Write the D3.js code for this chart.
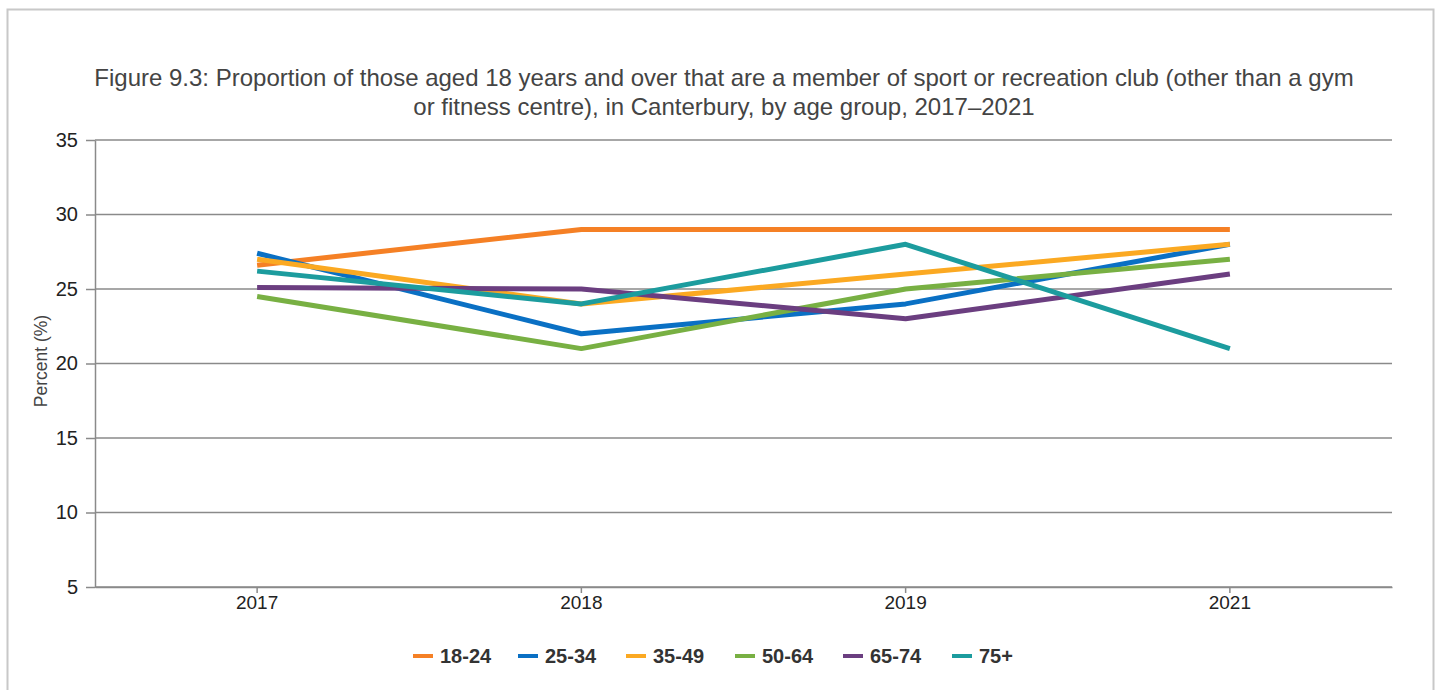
<!DOCTYPE html>
<html>
<head>
<meta charset="utf-8">
<script src="https://cdn.jsdelivr.net/npm/d3@7"></script>
<style>
  body { margin: 0; background: #fff; font-family: "Liberation Sans", Arial, sans-serif; }
</style>
</head>
<body>
<svg id="chart"></svg>
<script>
// chart data
var years = ["2017", "2018", "2019", "2021"];
var groups = ["18-24", "25-34", "35-49", "50-64", "65-74", "75+"];
var v1824 = [26.6, 29, 29, 29];
var v2534 = [27.4, 22, 24, 28];
var v3549 = [27.0, 24, 26, 28];
var v5064 = [24.5, 21, 25, 27];
var v6574 = [25.1, 25, 23, 26];
var v75 = [26.2, 24, 28, 21];
var yTicks = [5, 10, 15, 20, 25, 30, 35];
var colors = ["#f58025", "#0a70c4", "#fba922", "#78b043", "#6b3e80", "#1c9c9e"];

var series = [v1824, v2534, v3549, v5064, v6574, v75];

var width = 1442, height = 690;
var plotLeft = 95, plotRight = 1392, plotTop = 140, plotBottom = 587;

var svg = d3.select("#chart")
    .attr("width", width)
    .attr("height", height);

// outer frame
svg.append("rect")
    .attr("x", 7.5).attr("y", 9.5)
    .attr("width", 1426).attr("height", 700)
    .attr("fill", "none")
    .attr("stroke", "#c8c8c8")
    .attr("stroke-width", 2);

var xScale = d3.scaleBand()
    .domain(years)
    .range([plotLeft, plotRight]);

var yScale = d3.scaleLinear()
    .domain([5, 35])
    .range([plotBottom, plotTop]);

// horizontal grid
svg.append("g")
  .selectAll("line")
  .data(yTicks)
  .enter()
  .append("line")
    .attr("x1", plotLeft).attr("x2", plotRight)
    .attr("y1", d => yScale(d)).attr("y2", d => yScale(d))
    .attr("stroke", "#8a8a8a")
    .attr("stroke-width", 1.5);

// y axis
var yAxis = d3.axisLeft(yScale)
    .tickValues(yTicks)
    .tickSize(9)
    .tickSizeOuter(0)
    .tickPadding(8);

var gy = svg.append("g")
    .attr("transform", "translate(" + plotLeft + ",0)")
    .call(yAxis);
gy.select(".domain").attr("stroke", "#8a8a8a").attr("stroke-width", 1.5);
gy.selectAll(".tick line").attr("stroke", "#8a8a8a").attr("stroke-width", 1.5);
gy.selectAll(".tick text")
    .attr("fill", "#222")
    .style("font-family", "'Liberation Sans', Arial, sans-serif")
    .style("font-size", "20px");

// x axis
var xAxis = d3.axisBottom(xScale)
    .tickSize(6)
    .tickSizeOuter(0)
    .tickPadding(3);

var gx = svg.append("g")
    .attr("transform", "translate(0," + plotBottom + ")")
    .call(xAxis);
gx.select(".domain").attr("stroke", "#8a8a8a").attr("stroke-width", 1.5);
gx.selectAll(".tick line").attr("stroke", "#8a8a8a").attr("stroke-width", 1.5);
gx.selectAll(".tick text")
    .attr("fill", "#222")
    .style("font-family", "'Liberation Sans', Arial, sans-serif")
    .style("font-size", "19px");

// lines
var line = d3.line()
    .x((d, i) => xScale(years[i]) + xScale.bandwidth() / 2)
    .y(d => yScale(d));

svg.append("g")
  .selectAll("path")
  .data(series)
  .enter()
  .append("path")
    .attr("d", line)
    .attr("fill", "none")
    .attr("stroke", (d, i) => colors[i])
    .attr("stroke-width", 5)
    .attr("stroke-linejoin", "round");

// title
svg.append("text")
    .attr("x", 724)
    .attr("y", 86)
    .attr("text-anchor", "middle")
    .attr("fill", "#444")
    .style("font-size", "24px")
    .text("Figure 9.3: Proportion of those aged 18 years and over that are a member of sport or recreation club (other than a gym");
svg.append("text")
    .attr("x", 724)
    .attr("y", 115)
    .attr("text-anchor", "middle")
    .attr("fill", "#444")
    .style("font-size", "24px")
    .text("or fitness centre), in Canterbury, by age group, 2017\u20132021");

// y axis title
svg.append("text")
    .attr("transform", "rotate(-90)")
    .attr("x", -361)
    .attr("y", 47)
    .attr("text-anchor", "middle")
    .attr("fill", "#444")
    .style("font-size", "17.5px")
    .text("Percent (%)");

// legend
var legendX = [413, 518, 626, 735, 843, 952];
var legend = svg.append("g")
  .selectAll("g")
  .data(groups)
  .enter()
  .append("g")
    .attr("transform", (d, i) => "translate(" + legendX[i] + ",656)");

legend.append("line")
    .attr("x1", 0).attr("x2", 20)
    .attr("y1", 0).attr("y2", 0)
    .attr("stroke", (d, i) => colors[i])
    .attr("stroke-width", 4);

legend.append("text")
    .attr("x", 27)
    .attr("y", 7)
    .attr("fill", "#333")
    .style("font-size", "20px")
    .style("font-weight", "bold")
    .text(d => d);
</script>
</body>
</html>
